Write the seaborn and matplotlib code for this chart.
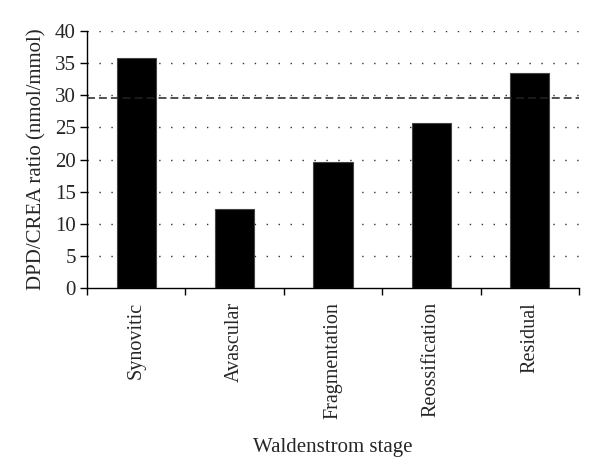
import matplotlib
matplotlib.use("Agg")
import matplotlib.pyplot as plt
import seaborn as sns
import pandas as pd

stages = ["Synovitic", "Avascular", "Fragmentation", "Reossification", "Residual"]
ratios = [35.8, 12.3, 19.6, 25.6, 33.4]
reference_level = 29.6
y_ticks = [0, 5, 10, 15, 20, 25, 30, 35, 40]

sns.set_theme(style="white")
plt.rcParams['font.family'] = ['Liberation Serif', 'DejaVu Serif']

df = pd.DataFrame({"stage": stages, "ratio": ratios})

fig = plt.figure(figsize=(6, 4.74), dpi=100)
ax = fig.add_axes([0.145, 0.392, 0.82, 0.543])

sns.barplot(data=df, x="stage", y="ratio", color="black", width=0.4,
            edgecolor="#444444", linewidth=0.8, saturation=1, ax=ax, zorder=3)

for t in y_ticks[1:]:
    ax.axhline(t, color="#333333", linestyle=(0, (1, 7.6)), linewidth=1.0, zorder=1)
ax.axhline(reference_level, color="#222222", linestyle=(0, (5.2, 2.6)), linewidth=1.1, zorder=4)

ax.set_ylim(0, 40)
ax.set_xlim(-0.5, len(stages) - 0.5)
ax.set_yticks(y_ticks)
ax.set_yticklabels([str(t) for t in y_ticks], fontsize=15)
ax.set_xticks(range(len(stages)))
ax.set_xticklabels(stages, rotation=90, fontsize=14.5)
ax.tick_params(axis="x", length=0, pad=10)
ax.tick_params(axis="y", direction="out", length=5, width=1, color="black", left=True, pad=3)

# category boundary ticks on x axis
ax.set_xticks([i - 0.5 for i in range(len(stages) + 1)], minor=True)
ax.tick_params(axis="x", which="minor", direction="out", length=5, width=1, color="black", bottom=True)

for s in ["top", "right"]:
    ax.spines[s].set_visible(False)
for s in ["left", "bottom"]:
    ax.spines[s].set_color("black")
    ax.spines[s].set_linewidth(1.0)

ax.set_xlabel("Waldenstrom stage", fontsize=15, labelpad=14)
ax.set_ylabel("DPD/CREA ratio (nmol/mmol)", fontsize=15, labelpad=6)

fig.savefig("out.png", dpi=100, facecolor="white")
